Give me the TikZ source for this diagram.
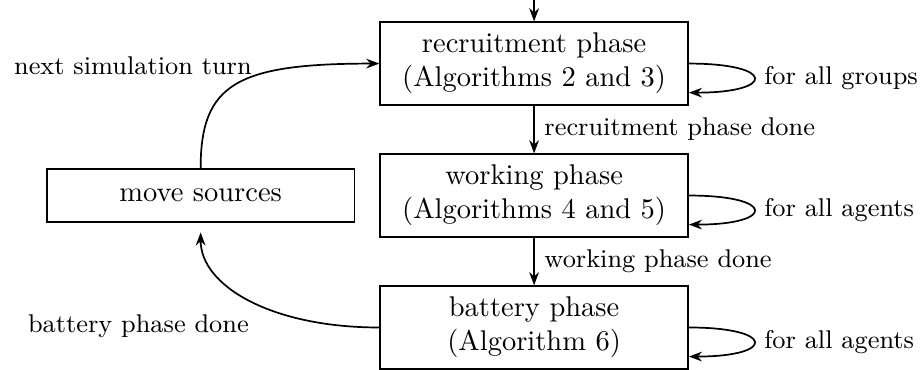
\documentclass[tikz,border=0pt]{standalone}
\usepackage{tikz}
\usetikzlibrary{calc, arrows.meta, positioning}

\tikzset{
  phasebox/.style={draw, semithick, align=center, minimum width=108pt, minimum height=29pt},
  flow/.style={semithick, -{Stealth[length=4.6pt, width=3.4pt]}},
  lbl/.style={font=\small},
}

\begin{document}
\begin{tikzpicture}[node distance=16.7pt]
  \useasboundingbox (0,0) rectangle (323.5pt,-129.8pt);

  % Phases of one turn
  \node[phasebox] (recruit) at (187.4pt,-22.3pt) {recruitment phase\\(Algorithms 2 and 3)};
  \node[phasebox, below=of recruit] (work) {working phase\\(Algorithms 4 and 5)};
  \node[phasebox, below=of work] (battery) {battery phase\\(Algorithm 6)};
  \node[phasebox, minimum height=18.7pt, left=8.4pt of work] (move) {move sources};

  % Entry from above
  \coordinate (entry) at ($(recruit.north)+(0,7.8pt)$);
  \draw[flow] (entry) -- (recruit);

  % Phase transitions
  \draw[flow] (recruit) -- node[lbl, right] {recruitment phase done} (work);
  \draw[flow] (work) -- node[lbl, right] {working phase done} (battery);

  % Loops over groups and agents
  \draw[flow] (recruit.east) .. controls +(30.5pt,0) and +(30.5pt,0) .. ([yshift=-10.2pt]recruit.east)
    node[lbl, midway, right] {for all groups};
  \draw[flow] (work.east) .. controls +(30.5pt,0) and +(30.5pt,0) .. ([yshift=-10.2pt]work.east)
    node[lbl, midway, right] {for all agents};
  \draw[flow] (battery.east) .. controls +(30.5pt,0) and +(30.5pt,0) .. ([yshift=-10.2pt]battery.east)
    node[lbl, midway, right] {for all agents};

  % Back to the next turn
  \draw[flow, shorten >=3.3pt] (battery.west) .. controls +(-38pt,0) and +(0,-22pt) .. (move.south)
    node[lbl, pos=0.45, below left] {battery phase done};
  \draw[flow] (move.north) .. controls +(0,29.5pt) and +(-50pt,0) .. (recruit.west)
    node[lbl, pos=0.6, above left, xshift=2.5pt, yshift=-3pt] {next simulation turn};
\end{tikzpicture}
\end{document}
